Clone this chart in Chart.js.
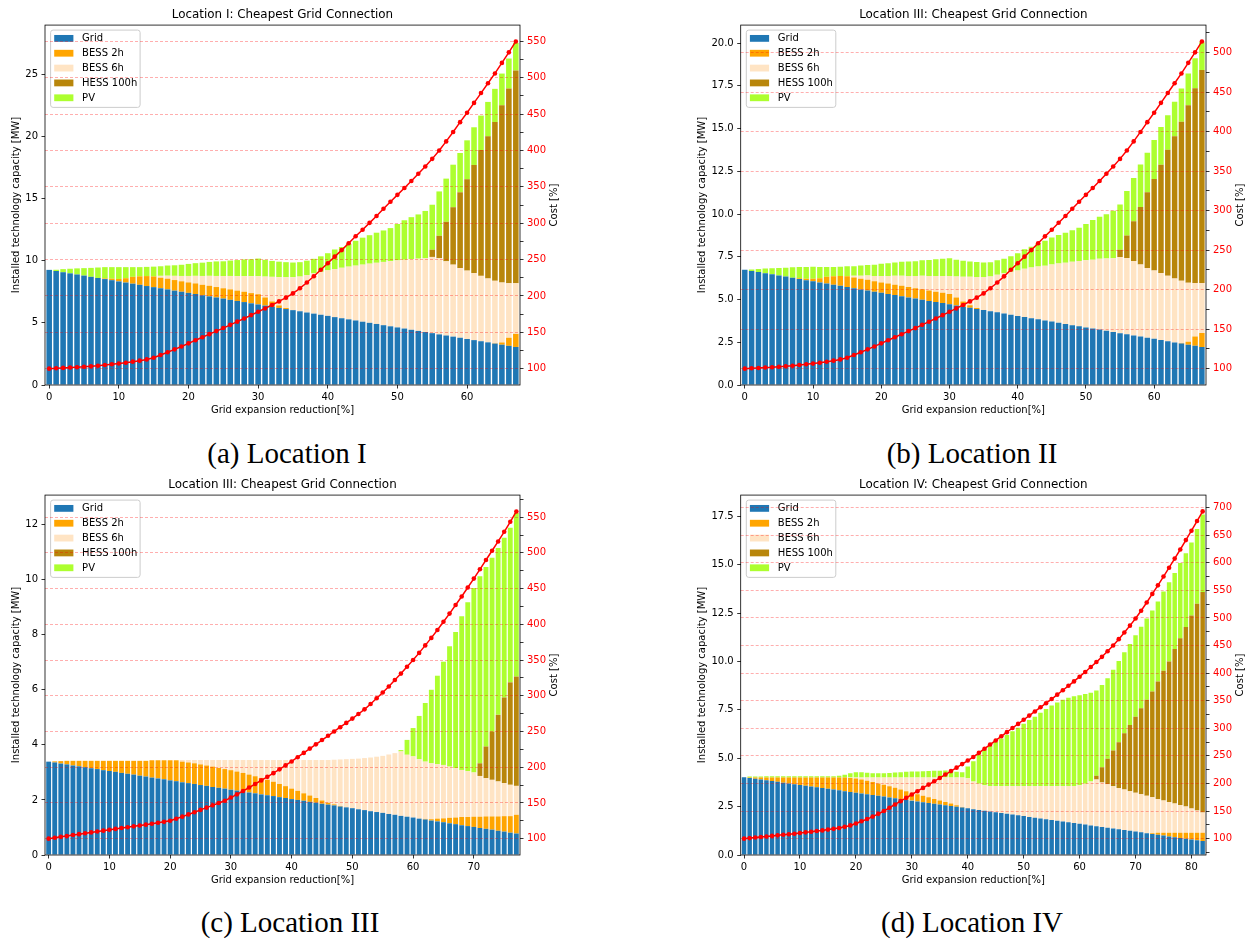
<!DOCTYPE html>
<html>
<head>
<meta charset="utf-8">
<script src="https://cdn.jsdelivr.net/npm/chart.js@4.4.1/dist/chart.umd.min.js"></script>
<style>
  html, body { margin: 0; padding: 0; background: #fff; overflow: hidden; }
  #fig { position: relative; width: 1253px; height: 941px; }
  #fig canvas { position: absolute; }
  .cap { position: absolute; font-family: "Liberation Serif", serif; font-size: 29px; line-height: 1;
         color: #000; transform: translate(-50%, -50%); white-space: nowrap; }
</style>
</head>
<body>
<div id="fig">
  <canvas id="locI"   width="580" height="425" style="left:0px;top:0px"></canvas>
  <canvas id="locII"  width="563" height="425" style="left:690px;top:0px"></canvas>
  <canvas id="locIII" width="580" height="425" style="left:0px;top:470px"></canvas>
  <canvas id="locIV"  width="563" height="425" style="left:690px;top:470px"></canvas>
  <div class="cap" style="left:287px;top:453px">(a) Location I</div>
  <div class="cap" style="left:972px;top:453px">(b) Location II</div>
  <div class="cap" style="left:290px;top:922px">(c) Location III</div>
  <div class="cap" style="left:972px;top:922px">(d) Location IV</div>
</div>
<script>
// ---- x categories: grid expansion reduction [%] ----
const reductionAB = [
  0,1,2,3,4,5,6,7,8,9,10,11,12,13,14,15,16,17,18,19,20,21,22,23,24,25,26,27,28,29,
  30,31,32,33,34,35,36,37,38,39,40,41,42,43,44,45,46,47,48,49,50,51,52,53,54,55,56,57,58,59,
  60,61,62,63,64,65,66,67];
const reductionC = [
  0,1,2,3,4,5,6,7,8,9,10,11,12,13,14,15,16,17,18,19,20,21,22,23,24,25,26,27,28,29,
  30,31,32,33,34,35,36,37,38,39,40,41,42,43,44,45,46,47,48,49,50,51,52,53,54,55,56,57,58,59,
  60,61,62,63,64,65,66,67,68,69,70,71,72,73,74,75,76,77];
const reductionD = [
  0,1,2,3,4,5,6,7,8,9,10,11,12,13,14,15,16,17,18,19,20,21,22,23,24,25,26,27,28,29,
  30,31,32,33,34,35,36,37,38,39,40,41,42,43,44,45,46,47,48,49,50,51,52,53,54,55,56,57,58,59,
  60,61,62,63,64,65,66,67,68,69,70,71,72,73,74,75,76,77,78,79,80,81,82];

// ---- tick labels ----
const xTicksAB = [0, 10, 20, 30, 40, 50, 60];
const xTicksC = [0, 10, 20, 30, 40, 50, 60, 70];
const xTicksD = [0, 10, 20, 30, 40, 50, 60, 70, 80];
const capTicksI = [0, 5, 10, 15, 20, 25];
const capTicksII = [0, 2.5, 5, 7.5, 10, 12.5, 15, 17.5, 20];
const capTicksIII = [0, 2, 4, 6, 8, 10, 12];
const capTicksIV = [0, 2.5, 5, 7.5, 10, 12.5, 15, 17.5];
const costTicksI = [100, 150, 200, 250, 300, 350, 400, 450, 500, 550];
const costTicksII = [100, 150, 200, 250, 300, 350, 400, 450, 500];
const costTicksIII = [100, 150, 200, 250, 300, 350, 400, 450, 500, 550];
const costTicksIV = [100, 150, 200, 250, 300, 350, 400, 450, 500, 550, 600, 650, 700];

// ---- Location I (panel a), installed capacity [MW] ----
const locIGrid = [
  9.26,9.17,9.07,8.98,8.89,8.80,8.70,8.61,8.52,8.43,
  8.33,8.24,8.15,8.06,7.96,7.87,7.78,7.69,7.59,7.50,
  7.41,7.32,7.22,7.13,7.04,6.95,6.85,6.76,6.67,6.57,
  6.48,6.39,6.30,6.20,6.11,6.02,5.93,5.83,5.74,5.65,
  5.56,5.46,5.37,5.28,5.19,5.09,5.00,4.91,4.81,4.72,
  4.63,4.54,4.44,4.35,4.26,4.17,4.07,3.98,3.89,3.80,
  3.70,3.61,3.52,3.43,3.33,3.24,3.15,3.06];
const locIBess2h = [
  0,0,0,0,0,0,0,0,0.05,0.12,
  0.2,0.35,0.55,0.68,0.8,0.86,0.85,0.86,0.85,0.84,
  0.84,0.85,0.84,0.85,0.84,0.83,0.84,0.83,0.83,0.82,
  0.82,0.65,0.42,0.2,0.08,0,0,0,0,0,
  0,0,0,0,0,0,0,0,0,0,
  0,0,0,0,0,0,0,0,0,0,
  0,0,0,0,0.03,0.18,0.65,1.05];
const locIBess6h = [
  0,0,0,0,0,0,0,0,0,0,
  0,0,0,0,0,0,0.15,0.24,0.34,0.43,
  0.52,0.61,0.71,0.80,0.89,0.98,1.08,1.17,1.26,1.36,
  1.45,1.68,1.98,2.28,2.48,2.65,2.79,3.02,3.24,3.45,
  3.66,3.87,4.06,4.24,4.41,4.59,4.76,4.92,5.09,5.24,
  5.39,5.53,5.68,5.81,5.94,6.13,6.13,5.97,5.79,5.60,
  5.50,5.39,5.26,5.14,5.02,4.82,4.39,4.08];
const locIHess = [
  0,0,0,0,0,0,0,0,0,0,
  0,0,0,0,0,0,0,0,0,0,
  0,0,0,0,0,0,0,0,0,0,
  0,0,0,0,0,0,0,0,0,0,
  0,0,0,0,0,0,0,0,0,0,
  0,0,0,0,0,0.58,1.8,3.18,4.62,6.1,
  7.35,8.7,10.12,11.43,12.77,14.26,15.66,17.11];
const locIPv = [
  0,0.1,0.25,0.37,0.49,0.6,0.72,0.84,0.91,0.93,
  0.95,0.89,0.78,0.74,0.74,0.79,0.77,0.82,0.85,0.9,
  0.97,1.02,1.07,1.12,1.17,1.19,1.24,1.29,1.34,1.37,
  1.42,1.35,1.28,1.24,1.21,1.18,1.16,1.15,1.17,1.25,
  1.38,1.57,1.67,1.83,2.0,2.17,2.29,2.42,2.53,2.66,
  2.93,3.18,3.38,3.56,3.8,3.62,3.57,3.47,3.42,3.16,
  3.13,3.03,2.77,2.77,2.67,2.55,2.41,2.22];
const locICost = [
  100,100.5,101,101.5,102,102.6,103.3,104,105,106,
  107,108.2,109.6,111,112.7,115,118.7,122.6,126.5,130.5,
  134.8,139,143.2,147.4,151.6,155.8,160.2,164.6,169,173.6,
  178.2,182.8,187.5,192.5,197.6,203.5,210.5,218.5,227,236,
  245,254,263,272.5,282,291,300.5,310,320,329.5,
  339,348.5,358,368,378,388.5,400,412.5,425.5,439,
  452,465.5,479,492.5,506,520.5,535,550];

// ---- Location II (panel b) ----
const locIIGrid = [
  6.74,6.67,6.61,6.54,6.47,6.40,6.34,6.27,6.20,6.13,
  6.07,6.00,5.93,5.86,5.80,5.73,5.66,5.59,5.53,5.46,
  5.39,5.32,5.26,5.19,5.12,5.06,4.99,4.92,4.85,4.79,
  4.72,4.65,4.58,4.52,4.45,4.38,4.31,4.25,4.18,4.11,
  4.04,3.98,3.91,3.84,3.77,3.71,3.64,3.57,3.50,3.44,
  3.37,3.30,3.24,3.17,3.10,3.03,2.97,2.90,2.83,2.76,
  2.70,2.63,2.56,2.49,2.43,2.36,2.29,2.22];
const locIIBess2h = [
  0,0,0,0,0,0,0,0,0.04,0.09,
  0.15,0.25,0.40,0.50,0.58,0.63,0.62,0.63,0.62,0.61,
  0.61,0.62,0.61,0.62,0.61,0.60,0.61,0.60,0.60,0.60,
  0.60,0.47,0.31,0.15,0.06,0,0,0,0,0,
  0,0,0,0,0,0,0,0,0,0,
  0,0,0,0,0,0,0,0,0,0,
  0,0,0,0,0.02,0.17,0.55,0.82];
const locIIBess6h = [
  0,0,0,0,0,0,0,0,0,0,
  0,0,0,0,0,0,0.11,0.17,0.25,0.31,
  0.38,0.44,0.52,0.58,0.65,0.71,0.79,0.85,0.92,0.99,
  1.06,1.22,1.44,1.66,1.81,1.93,2.03,2.20,2.36,2.51,
  2.66,2.82,2.96,3.09,3.21,3.34,3.47,3.58,3.71,3.81,
  3.92,4.03,4.14,4.23,4.32,4.46,4.46,4.35,4.22,4.08,
  4.00,3.92,3.83,3.74,3.65,3.45,3.12,2.92];
const locIIHess = [
  0,0,0,0,0,0,0,0,0,0,
  0,0,0,0,0,0,0,0,0,0,
  0,0,0,0,0,0,0,0,0,0,
  0,0,0,0,0,0,0,0,0,0,
  0,0,0,0,0,0,0,0,0,0,
  0,0,0,0,0,0.42,1.31,2.32,3.36,4.44,
  5.35,6.33,7.37,8.32,9.30,10.38,11.40,12.46];
const locIIPv = [
  0,0.09,0.18,0.27,0.36,0.44,0.52,0.61,0.66,0.68,
  0.69,0.65,0.57,0.54,0.54,0.58,0.56,0.60,0.62,0.66,
  0.71,0.74,0.78,0.82,0.85,0.87,0.90,0.94,0.98,1.00,
  1.03,0.98,0.93,0.90,0.88,0.86,0.84,0.84,0.85,0.91,
  1.00,1.14,1.22,1.33,1.46,1.58,1.67,1.76,1.84,1.94,
  2.13,2.32,2.46,2.59,2.77,2.64,2.60,2.53,2.49,2.30,
  2.28,2.21,2.02,2.02,1.94,1.86,1.75,1.62];
const locIICost = [
  100,100.5,100.9,101.4,101.8,102.4,103,103.7,104.6,105.5,
  106.4,107.5,108.8,110.1,111.7,113.8,117.2,120.8,124.4,128.1,
  132,135.9,139.7,143.6,147.5,151.3,155.4,159.4,163.5,167.7,
  171.9,176.2,180.5,185.1,189.8,195.2,201.7,209,216.8,225.1,
  233.4,241.7,250,258.7,267.4,275.7,284.5,293.2,302.4,311.1,
  319.9,328.6,337.4,346.6,355.8,365.4,376,387.5,399.5,411.9,
  423.8,436.3,448.7,461.1,473.5,486.9,500.2,514];

// ---- Location III (panel c) ----
const locIIIGrid = [
  3.39,3.36,3.32,3.29,3.25,3.22,3.19,3.15,3.12,3.08,
  3.05,3.02,2.98,2.95,2.92,2.88,2.85,2.81,2.78,2.75,
  2.71,2.68,2.64,2.61,2.58,2.54,2.51,2.47,2.44,2.41,
  2.37,2.34,2.31,2.27,2.24,2.20,2.17,2.14,2.10,2.07,
  2.03,2.00,1.97,1.93,1.90,1.86,1.83,1.80,1.76,1.73,
  1.70,1.66,1.63,1.59,1.56,1.53,1.49,1.46,1.42,1.39,
  1.36,1.32,1.29,1.25,1.22,1.19,1.15,1.12,1.08,1.05,
  1.02,0.98,0.95,0.92,0.88,0.85,0.81,0.78];
const locIIIBess2h = [
  0,0.04,0.09,0.13,0.17,0.20,0.23,0.27,0.30,0.34,
  0.37,0.40,0.44,0.47,0.50,0.54,0.57,0.63,0.66,0.69,
  0.73,0.76,0.75,0.75,0.75,0.75,0.74,0.74,0.72,0.71,
  0.71,0.69,0.67,0.65,0.62,0.60,0.56,0.52,0.48,0.43,
  0.38,0.33,0.27,0.23,0.17,0.12,0.07,0.04,0.02,0,
  0,0,0,0,0,0,0,0,0,0,
  0,0,0.02,0.05,0.10,0.14,0.20,0.24,0.30,0.33,
  0.37,0.41,0.45,0.48,0.52,0.56,0.60,0.68];
const locIIIBess6h = [
  0,0,0,0,0,0,0,0,0,0,
  0,0,0,0,0,0,0,0,0,0,
  0,0,0.06,0.09,0.12,0.16,0.20,0.24,0.29,0.33,
  0.37,0.42,0.47,0.53,0.59,0.65,0.72,0.79,0.87,0.95,
  1.04,1.12,1.21,1.29,1.38,1.47,1.55,1.62,1.69,1.75,
  1.79,1.84,1.89,1.95,2.01,2.07,2.16,2.24,2.34,2.25,
  2.22,2.16,2.08,2.03,1.98,1.94,1.86,1.79,1.71,1.66,
  1.61,1.48,1.39,1.33,1.27,1.20,1.14,1.05];
const locIIIHess = [
  0,0,0,0,0,0,0,0,0,0,
  0,0,0,0,0,0,0,0,0,0,
  0,0,0,0,0,0,0,0,0,0,
  0,0,0,0,0,0,0,0,0,0,
  0,0,0,0,0,0,0,0,0,0,
  0,0,0,0,0,0,0,0,0,0,
  0,0,0,0,0,0,0,0,0,0,
  0,0.46,1.15,1.75,2.42,3.11,3.72,3.97];
const locIIIPv = [
  0,0,0,0,0,0,0,0,0,0,
  0,0,0,0,0,0,0,0,0,0,
  0,0,0,0,0,0,0,0,0,0,
  0,0,0,0,0,0,0,0,0,0,
  0,0,0,0,0,0,0,0,0,0,
  0,0,0,0,0,0,0,0,0.05,0.54,
  1.03,1.57,2.13,2.67,3.21,3.75,4.37,4.95,5.58,6.14,
  6.70,6.79,6.52,6.31,6.06,5.80,5.61,5.94];
const locIIICost = [
  100,101.3,102.5,103.8,105,106.3,107.5,108.7,110,111.2,
  112.4,113.6,114.8,116,117.2,118.4,119.6,120.9,122.2,123.5,
  125,127.8,130.8,133.9,137,140.2,143.4,146.6,149.8,153,
  157.5,162,166.7,171.5,176.5,181.5,186.5,191.7,197,202.5,
  208,214,220,226,232,238,244,250,256,262,
  268,274.5,281,288.5,296.5,304.5,313,322,331,340.5,
  350,360,370.5,381,392,403.5,415,427,439,451.5,
  464,477,490,503,516,529.5,543.5,558];

// ---- Location IV (panel d) ----
const locIVGrid = [
  4.02,3.98,3.94,3.90,3.86,3.82,3.78,3.74,3.70,3.66,
  3.62,3.58,3.54,3.50,3.46,3.42,3.38,3.34,3.30,3.26,
  3.22,3.18,3.14,3.10,3.06,3.02,2.97,2.93,2.89,2.85,
  2.81,2.77,2.73,2.69,2.65,2.61,2.57,2.53,2.49,2.45,
  2.41,2.37,2.33,2.29,2.25,2.21,2.17,2.13,2.09,2.05,
  2.01,1.97,1.93,1.89,1.85,1.81,1.77,1.73,1.69,1.65,
  1.61,1.57,1.53,1.49,1.45,1.41,1.37,1.33,1.29,1.25,
  1.21,1.17,1.13,1.09,1.05,1.01,0.96,0.92,0.88,0.84,
  0.80,0.76,0.72];
const locIVBess2h = [
  0,0.02,0.06,0.10,0.14,0.18,0.22,0.26,0.30,0.34,
  0.38,0.42,0.46,0.50,0.54,0.58,0.62,0.66,0.70,0.72,
  0.73,0.72,0.70,0.67,0.64,0.61,0.58,0.54,0.50,0.45,
  0.41,0.37,0.33,0.29,0.25,0.21,0.17,0.13,0.08,0.03,
  0,0,0,0,0,0,0,0,0,0,
  0,0,0,0,0,0,0,0,0,0,
  0,0,0,0,0,0,0,0,0,0,
  0,0,0,0.04,0.10,0.14,0.19,0.23,0.27,0.31,
  0.35,0.39,0.43];
const locIVBess6h = [
  0,0,0,0,0,0,0,0,0,0,
  0,0,0,0,0,0,0,0,0,0.02,
  0.05,0.10,0.16,0.23,0.30,0.37,0.45,0.53,0.61,0.70,
  0.78,0.86,0.94,1.02,1.10,1.18,1.26,1.34,1.43,1.52,
  1.56,1.43,1.35,1.31,1.31,1.35,1.39,1.43,1.47,1.51,
  1.55,1.59,1.63,1.67,1.71,1.75,1.79,1.83,1.87,1.91,
  1.99,2.11,2.27,2.41,2.30,2.24,2.18,2.13,2.09,2.05,
  2.01,1.97,1.93,1.85,1.75,1.67,1.59,1.51,1.43,1.35,
  1.25,1.15,1.05];
const locIVHess = [
  0,0,0,0,0,0,0,0,0,0,
  0,0,0,0,0,0,0,0,0,0,
  0,0,0,0,0,0,0,0,0,0,
  0,0,0,0,0,0,0,0,0,0,
  0,0,0,0,0,0,0,0,0,0,
  0,0,0,0,0,0,0,0,0,0,
  0,0,0,0.19,0.78,1.32,1.85,2.37,2.91,3.42,
  3.93,4.45,4.96,5.47,6.07,6.70,7.26,7.98,8.62,9.28,
  9.98,10.68,11.39];
const locIVPv = [
  0,0.06,0.06,0.06,0.07,0.07,0.07,0.07,0.07,0.07,
  0.07,0.07,0.07,0.07,0.07,0.07,0.07,0.10,0.15,0.22,
  0.27,0.27,0.25,0.22,0.22,0.22,0.24,0.26,0.28,0.30,
  0.31,0.32,0.33,0.34,0.35,0.36,0.37,0.35,0.30,0.28,
  0.60,1.05,1.52,1.85,2.09,2.29,2.46,2.64,2.84,3.02,
  3.22,3.42,3.59,3.79,3.99,4.16,4.32,4.46,4.56,4.64,
  4.66,4.64,4.58,4.41,4.25,4.17,4.17,4.19,4.19,4.18,
  4.21,4.21,4.20,4.19,4.13,4.10,4.09,3.93,3.89,3.82,
  3.77,3.87,4.01];
const locIVCost = [
  100,101,102,103,104,105,106,107,108,109,
  110.2,111.4,112.6,113.8,115,116.4,117.8,119.4,121.4,124,
  127.5,131.5,135.5,140,145,150,156,162,168,174,
  180,186,192,198,204,210,216.2,222.4,228.7,235.1,
  241.6,248.1,255.5,263,270.5,278,285.5,293,300.5,308,
  315.5,323,330.5,338,345.5,353,361,369,377,385,
  393.5,402,411,420,429.5,439.5,450,461.5,473.5,486,
  499,513,528,543.5,559,575,591,607.5,624,641,
  658,675.5,693];

// ---- series styling ----
const seriesNames = ['Grid', 'BESS 2h', 'BESS 6h', 'HESS 100h', 'PV'];
const seriesColors = ['#1f77b4', '#ffa500', '#ffe4c4', '#b8860b', '#adff2f'];

const FONT = '"DejaVu Sans", sans-serif';
const LABEL_PX = 10;
Chart.defaults.font.family = FONT;
Chart.defaults.font.size = LABEL_PX;
Chart.defaults.color = '#000';

// In-axes legend with a translucent rounded frame, drawn above the bars
const boxLegend = {
  id: 'boxLegend',
  afterDatasetsDraw(chart) {
    const { ctx, chartArea } = chart;
    const x0 = chartArea.left + 5.6, y0 = chartArea.top + 5;
    const w = 89.5, h = 77.3, r = 2.5;
    ctx.save();
    ctx.beginPath();
    ctx.moveTo(x0 + r, y0);
    ctx.lineTo(x0 + w - r, y0); ctx.quadraticCurveTo(x0 + w, y0, x0 + w, y0 + r);
    ctx.lineTo(x0 + w, y0 + h - r); ctx.quadraticCurveTo(x0 + w, y0 + h, x0 + w - r, y0 + h);
    ctx.lineTo(x0 + r, y0 + h); ctx.quadraticCurveTo(x0, y0 + h, x0, y0 + h - r);
    ctx.lineTo(x0, y0 + r); ctx.quadraticCurveTo(x0, y0, x0 + r, y0);
    ctx.closePath();
    ctx.fillStyle = 'rgba(255,255,255,0.8)';
    ctx.fill();
    ctx.strokeStyle = '#cccccc';
    ctx.lineWidth = 1;
    ctx.stroke();
    ctx.font = LABEL_PX + 'px ' + FONT;
    ctx.textBaseline = 'middle';
    ctx.textAlign = 'left';
    seriesNames.forEach((name, k) => {
      const cy = y0 + 8.3 + k * 14.85;
      ctx.fillStyle = seriesColors[k];
      ctx.fillRect(x0 + 3.6, cy - 3.4, 19.2, 6.8);
      ctx.fillStyle = '#000';
      ctx.fillText(name, x0 + 31.5, cy + 0.5);
    });
    ctx.restore();
  }
};

// Axes frame and the rotated right-hand axis title
const frameAndCostTitle = {
  id: 'frameAndCostTitle',
  afterDraw(chart) {
    const { ctx, chartArea: a } = chart;
    ctx.save();
    ctx.strokeStyle = '#000';
    ctx.lineWidth = 0.8;
    ctx.strokeRect(a.left, a.top, a.right - a.left, a.bottom - a.top);
    ctx.translate(a.right + 34.5, (a.top + a.bottom) / 2);
    ctx.rotate(-Math.PI / 2);
    ctx.font = LABEL_PX + 'px ' + FONT;
    ctx.textAlign = 'center';
    ctx.textBaseline = 'middle';
    ctx.fillStyle = '#000';
    ctx.fillText('Cost [%]', 0, 0);
    ctx.restore();
  }
};

function withMinorTicks(majors, lo, hi) {
  const half = (majors[1] - majors[0]) / 2;
  const out = [];
  for (let v = majors[0] - half; v <= hi + 1e-9; v += half) {
    if (v >= lo - 1e-9) out.push({ value: v });
  }
  return out;
}

function drawPanel(p) {
  const datasets = p.series.map((vals, k) => ({
    type: 'bar',
    label: seriesNames[k],
    data: vals.map((v, i) => ({ x: p.x[i], y: v })),
    backgroundColor: seriesColors[k],
    borderWidth: 0,
    yAxisID: 'y',
    order: 1,
    barPercentage: 1.0,
    categoryPercentage: 0.8
  }));
  datasets.push({
    type: 'line',
    label: 'Cost',
    data: p.cost.map((v, i) => ({ x: p.x[i], y: v })),
    yAxisID: 'y2',
    borderColor: '#ff0000',
    backgroundColor: '#ff0000',
    borderWidth: 1.5,
    pointRadius: 2.3,
    pointBorderWidth: 0,
    pointBackgroundColor: '#ff0000',
    tension: 0,
    order: 0
  });

  new Chart(document.getElementById(p.canvas), {
    type: 'bar',
    data: { datasets },
    plugins: [boxLegend, frameAndCostTitle],
    options: {
      responsive: false,
      animation: false,
      devicePixelRatio: 1,
      layout: { padding: 0 },
      plugins: {
        legend: { display: false },
        tooltip: { enabled: false },
        title: {
          display: true, text: p.title, color: '#000', fullSize: false,
          font: { size: 11.9, weight: 'normal' },
          padding: { top: 7.9, bottom: 2.9 }
        }
      },
      scales: {
        x: {
          type: 'linear', bounds: 'data', min: p.xMin, max: p.xMax,
          stacked: true, offset: false,
          afterBuildTicks: s => { s.ticks = p.xTicks.map(v => ({ value: v })); },
          ticks: { autoSkip: false, maxRotation: 0, padding: 2.8, color: '#000',
                   callback: v => String(v) },
          grid: { display: true, drawOnChartArea: false, offset: false,
                  tickLength: 3.5, tickColor: '#000', tickWidth: 0.8 },
          border: { display: false },
          title: { display: true, text: 'Grid expansion reduction[%]', color: '#000',
                   padding: { top: 0, bottom: 9 } },
          afterFit: s => { s.height = 40; }
        },
        y: {
          type: 'linear', position: 'left', bounds: 'data', min: 0, max: p.yMax,
          stacked: true,
          afterBuildTicks: s => { s.ticks = p.yTicks.map(v => ({ value: v })); },
          ticks: { autoSkip: false, padding: 3.5, color: '#000',
                   callback: v => v.toFixed(p.yDigits) },
          grid: { display: true, drawOnChartArea: false,
                  tickLength: 3.5, tickColor: '#000', tickWidth: 0.8 },
          border: { display: false },
          title: { display: true, text: 'Installed technology capacity [MW]', color: '#000',
                   padding: { top: p.yTitlePad, bottom: 0 } },
          afterFit: s => { s.width = p.leftW; }
        },
        y2: {
          type: 'linear', position: 'right', bounds: 'data',
          min: p.costMin, max: p.costMax, stacked: false,
          afterBuildTicks: s => { s.ticks = withMinorTicks(p.costTicks, p.costMin, p.costMax); },
          ticks: { autoSkip: false, padding: 3.5, color: '#ff0000',
                   callback: v => (p.costTicks.includes(v) ? String(v) : '') },
          grid: {
            display: true, drawOnChartArea: true, z: 1,
            color: c => (c.tick && p.costTicks.includes(c.tick.value)) ? 'rgba(255,0,0,0.4)' : 'rgba(0,0,0,0)',
            lineWidth: 0.8, tickLength: 3.5, tickColor: '#000', tickWidth: 0.8
          },
          border: { display: false, dash: [3, 2] },
          afterFit: s => { s.width = p.rightW; }
        }
      }
    }
  });
}

const panels = [
  { canvas: 'locI', title: 'Location I: Cheapest Grid Connection', x: reductionAB,
    series: [locIGrid, locIBess2h, locIBess6h, locIHess, locIPv], cost: locICost,
    xTicks: xTicksAB, yTicks: capTicksI, costTicks: costTicksI, yDigits: 0,
    xMin: -0.6, xMax: 67.6, yMax: 28.95, costMin: 77.5, costMax: 572.5,
    leftW: 45, rightW: 60, yTitlePad: 10.7 },
  { canvas: 'locII', title: 'Location III: Cheapest Grid Connection', x: reductionAB,
    series: [locIIGrid, locIIBess2h, locIIBess6h, locIIHess, locIIPv], cost: locIICost,
    xTicks: xTicksAB, yTicks: capTicksII, costTicks: costTicksII, yDigits: 1,
    xMin: -0.6, xMax: 67.6, yMax: 21.05, costMin: 79.3, costMax: 534.7,
    leftW: 50.7, rightW: 47, yTitlePad: 6.3 },
  { canvas: 'locIII', title: 'Location III: Cheapest Grid Connection', x: reductionC,
    series: [locIIIGrid, locIIIBess2h, locIIIBess6h, locIIIHess, locIIIPv], cost: locIIICost,
    xTicks: xTicksC, yTicks: capTicksIII, costTicks: costTicksIII, yDigits: 0,
    xMin: -0.6, xMax: 77.6, yMax: 13.07, costMin: 77.1, costMax: 580.9,
    leftW: 45, rightW: 60, yTitlePad: 10.7 },
  { canvas: 'locIV', title: 'Location IV: Cheapest Grid Connection', x: reductionD,
    series: [locIVGrid, locIVBess2h, locIVBess6h, locIVHess, locIVPv], cost: locIVCost,
    xTicks: xTicksD, yTicks: capTicksIV, costTicks: costTicksIV, yDigits: 1,
    xMin: -0.6, xMax: 82.6, yMax: 18.6, costMin: 70.4, costMax: 722.6,
    leftW: 50.7, rightW: 47, yTitlePad: 6.3 }
];

panels.forEach(drawPanel);
</script>
</body>
</html>
